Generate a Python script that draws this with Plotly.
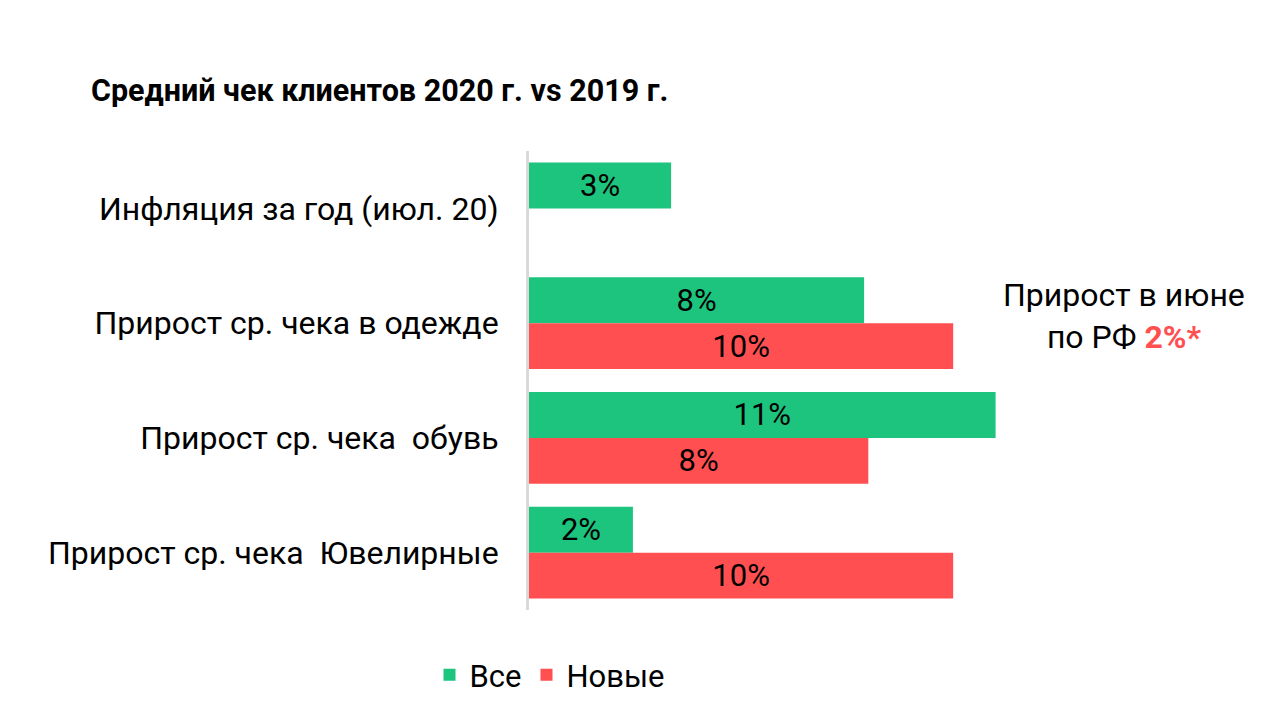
import plotly.graph_objects as go

categories = [
    "Инфляция за год (июл. 20)",
    "Прирост ср. чека в одежде",
    "Прирост ср. чека\u00a0 обувь",
    "Прирост ср. чека\u00a0 Ювелирные",
]
vse = [3.35, 7.9, 11.0, 2.45]
novye = [None, 10.0, 8.0, 10.0]
series_names = ["Все", "Новые"]

GREEN = "#1cc47e"
RED = "#ff4f51"
FONT = "Roboto"
OFF = 8  # page body margin offset

fig = go.Figure()
for name, vals, col in [(series_names[0], vse, GREEN), (series_names[1], novye, RED)]:
    fig.add_trace(go.Bar(
        y=categories, x=vals, name=name, orientation="h",
        marker=dict(color=col, line=dict(width=0)),
        texttemplate="%{x:.0f}%", textposition="inside",
        insidetextanchor="middle", constraintext="none",
        textfont=dict(family=FONT, size=31, color="#000000"),
        hoverinfo="skip",
    ))

fig.update_layout(
    width=1280, height=720,
    margin=dict(l=529-OFF, r=1280-1038+OFF, t=151-OFF, b=720-610+OFF),
    paper_bgcolor="white", plot_bgcolor="white",
    barmode="group", bargap=0.2, bargroupgap=0,
    font=dict(family=FONT, color="#000000"),
    title=dict(text="<b>Средний чек клиентов 2020 г. vs 2019 г.</b>",
               x=(91-OFF)/1280, xanchor="left", xref="container",
               y=1-(90-OFF)/720, yanchor="middle", yref="container",
               font=dict(family=FONT, size=30.5, color="#000000")),
    xaxis=dict(range=[0, 12.0], visible=False, showgrid=False, zeroline=False),
    yaxis=dict(autorange="reversed", showgrid=False, zeroline=False,
               showline=True, linecolor="#d9d9d9", linewidth=3,
               ticks="", ticklabelstandoff=21,
               tickfont=dict(family=FONT, size=32, color="#000000")),
    legend=dict(orientation="h", xref="container", yref="container",
                x=(550-OFF)/1280, xanchor="center", y=1-(675-OFF)/720, yanchor="middle",
                font=dict(family=FONT, size=31, color="#000000"),
                traceorder="normal"),
    showlegend=True,
)

fig.add_annotation(
    xref="paper", yref="paper", x=(1124-529)/509, y=(610-316)/459,
    xanchor="center", yanchor="middle", showarrow=False, align="center",
    text="Прирост в июне<br>по РФ <b><span style='color:%s'>2%%*</span></b>" % RED,
    font=dict(family=FONT, size=32, color="#000000"),
)

fig.write_html("out.html")
